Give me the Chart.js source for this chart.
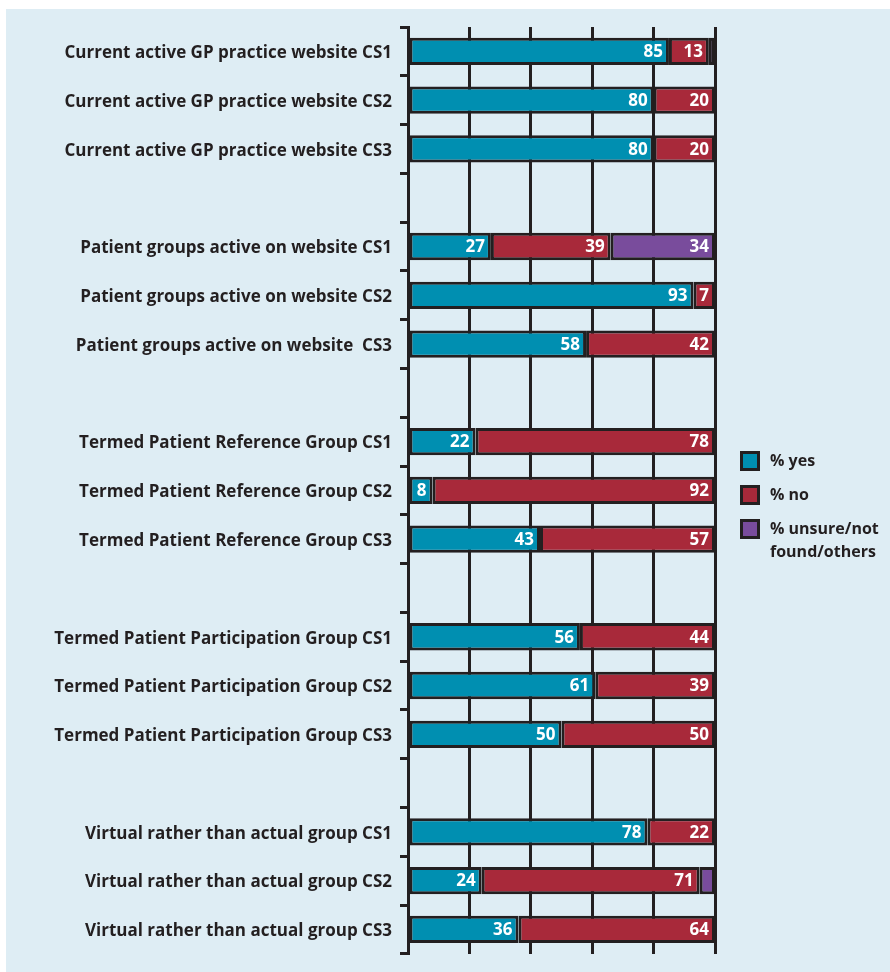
<!DOCTYPE html>
<html>
<head>
<meta charset="utf-8">
<script src="https://cdn.jsdelivr.net/npm/chart.js@4"></script>
<style>
  body { margin: 0; background: #fff; }
  .wrap { position: relative; width: 890px; height: 972px; }
  .legend { position: absolute; left: 740px; top: 450px; font: bold 16px "Open Sans", sans-serif; color: #231f20; }
  .legend .item { display: flex; align-items: flex-start; margin-bottom: 12px; }
  .legend .box { width: 14px; height: 14px; border: 3px solid #231f20; margin-right: 10px; margin-top: 1px; flex: none; }
  .legend .txt { line-height: 23px; margin-top: -1px; }
</style>
</head>
<body>
<div class="wrap">
  <canvas id="chart" width="890" height="972"></canvas>
  <div class="legend" id="legend"></div>
</div>
<script>
const categories = [
  "Current active GP practice website CS1",
  "Current active GP practice website CS2",
  "Current active GP practice website CS3",
  "",
  "Patient groups active on website CS1",
  "Patient groups active on website CS2",
  "Patient groups active on website  CS3",
  "",
  "Termed Patient Reference Group CS1",
  "Termed Patient Reference Group CS2",
  "Termed Patient Reference Group CS3",
  "",
  "Termed Patient Participation Group CS1",
  "Termed Patient Participation Group CS2",
  "Termed Patient Participation Group CS3",
  "",
  "Virtual rather than actual group CS1",
  "Virtual rather than actual group CS2",
  "Virtual rather than actual group CS3"
];
const seriesNames = ["% yes", "% no", "% unsure/not found/others"];
const yesValues =    [85, 80, 80, null, 27, 93, 58, null, 22,  8, 43, null, 56, 61, 50, null, 78, 24, 36];
const noValues =     [13, 20, 20, null, 39,  7, 42, null, 78, 92, 57, null, 44, 39, 50, null, 22, 71, 64];
const unsureValues = [ 2, null, null, null, 34, null, null, null, null, null, null, null, null, null, null, null, null, 5, null];
const colors = ["#008fb1", "#a8293a", "#794c9c"];
const ink = "#231f20";

const legendEl = document.getElementById("legend");
seriesNames.forEach((name, i) => {
  let item = document.createElement("div");
  item.className = "item";
  item.innerHTML = `<span class="box" style="background:${colors[i]}"></span><span class="txt">${name.replace("not ", "not<br>")}</span>`;
  legendEl.appendChild(item);
});

const background = {
  id: "background",
  beforeDraw(chart) {
    const ctx = chart.ctx;
    ctx.save();
    ctx.fillStyle = "#fff";
    ctx.fillRect(0, 0, chart.width, chart.height);
    ctx.fillStyle = "#deedf4";
    ctx.fillRect(6, 9, chart.width - 6, chart.height - 9);
    ctx.restore();
  }
};

// white value labels at the right end of each segment
const valueLabels = {
  id: "valueLabels",
  afterDatasetsDraw(chart) {
    const ctx = chart.ctx;
    ctx.save();
    ctx.fillStyle = "#fff";
    ctx.font = "bold 17px 'Open Sans', sans-serif";
    ctx.textAlign = "right";
    ctx.textBaseline = "middle";
    chart.data.datasets.forEach((ds, di) => {
      chart.getDatasetMeta(di).data.forEach((bar, i) => {
        const v = ds.data[i];
        if (v == null || v < 6) return;
        ctx.fillText(v, bar.x - 6, bar.y + 1);
      });
    });
    ctx.restore();
  }
};

const makeSet = (label, data, i) => ({
  label: label,
  data: data,
  backgroundColor: colors[i],
  borderColor: ink,
  borderWidth: 3,
  borderSkipped: false,
  barPercentage: 0.56,
  categoryPercentage: 1
});

new Chart(document.getElementById("chart"), {
  type: "bar",
  data: {
    labels: categories,
    datasets: [
      makeSet(seriesNames[0], yesValues, 0),
      makeSet(seriesNames[1], noValues, 1),
      makeSet(seriesNames[2], unsureValues, 2)
    ]
  },
  options: {
    indexAxis: "y",
    responsive: false,
    animation: false,
    layout: { padding: { top: 27, right: 175, bottom: 15, left: 0 } },
    plugins: { legend: { display: false }, tooltip: { enabled: false } },
    scales: {
      x: {
        stacked: true,
        min: 0,
        max: 100,
        ticks: { display: false, stepSize: 20 },
        grid: { color: ink, lineWidth: 3, drawTicks: false },
        border: { display: false }
      },
      y: {
        stacked: true,
        afterFit(scale) { scale.width = 408; },
        ticks: { color: ink, font: { family: "'Open Sans'", weight: "bold", size: 17 }, padding: 8, labelOffset: 2, autoSkip: false },
        grid: { offset: true, drawOnChartArea: false, color: ink, lineWidth: 3, tickLength: 8 },
        border: { display: true, color: ink, width: 3 }
      }
    }
  },
  plugins: [background, valueLabels]
});
</script>
</body>
</html>
